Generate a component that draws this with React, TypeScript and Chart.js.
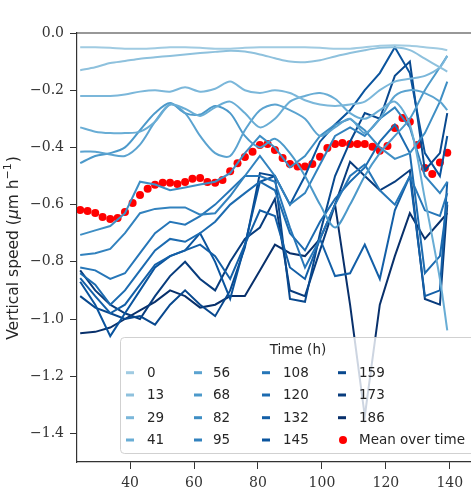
import React, { useEffect, useRef } from "react";
import { Chart, registerables } from "chart.js";

Chart.register(...registerables);

// Sampling times (h) of the per-track vertical speed curves
const lineTimes = [24.4, 29.1, 33.8, 38.4, 43.1, 47.8, 52.5, 57.2, 61.9, 66.6, 71.3, 75.9, 80.6, 85.3, 90.0, 94.7, 99.4, 104.1, 108.8, 113.4, 118.1, 122.8, 127.5, 132.2, 136.9, 139.2];

// Legend labels: start time (h) of each curve
const timeLabels = ["0", "13", "29", "41", "56", "68", "82", "95", "108", "120", "132", "145", "159", "173", "186"];

const speed0 = [-0.05, -0.05, -0.052, -0.055, -0.055, -0.053, -0.05, -0.05, -0.052, -0.055, -0.055, -0.052, -0.05, -0.05, -0.05, -0.05, -0.052, -0.055, -0.055, -0.05, -0.045, -0.043, -0.045, -0.05, -0.055, -0.06];
const speed13 = [-0.13, -0.12, -0.105, -0.098, -0.09, -0.085, -0.08, -0.075, -0.07, -0.066, -0.062, -0.065, -0.075, -0.088, -0.1, -0.102, -0.095, -0.082, -0.07, -0.06, -0.052, -0.05, -0.06, -0.09, -0.12, -0.135];
const speed29 = [-0.22, -0.22, -0.22, -0.215, -0.205, -0.2, -0.205, -0.19, -0.205, -0.195, -0.17, -0.2, -0.21, -0.2, -0.21, -0.235, -0.25, -0.255, -0.25, -0.24, -0.2, -0.17, -0.16, -0.15, -0.12, -0.08];
const speed41 = [-0.33, -0.345, -0.35, -0.35, -0.345, -0.31, -0.25, -0.265, -0.29, -0.26, -0.24, -0.28, -0.33, -0.3, -0.24, -0.22, -0.21, -0.23, -0.28, -0.3, -0.27, -0.24, -0.32, -0.58, -0.86, -1.04];
const speed56 = [-0.415, -0.415, -0.425, -0.43, -0.39, -0.31, -0.25, -0.28, -0.36, -0.42, -0.43, -0.34, -0.27, -0.25, -0.27, -0.3, -0.36, -0.33, -0.3, -0.35, -0.3, -0.22, -0.2, -0.21, -0.24, -0.27];
const speed68 = [-0.455, -0.43, -0.42, -0.4, -0.34, -0.28, -0.245, -0.28, -0.285, -0.255, -0.28, -0.36, -0.4, -0.37, -0.42, -0.5, -0.6, -0.68, -0.6, -0.5, -0.42, -0.36, -0.3, -0.2, -0.12, -0.08];
const speed82 = [-0.706, -0.69, -0.675, -0.63, -0.52, -0.53, -0.55, -0.54, -0.53, -0.52, -0.49, -0.42, -0.36, -0.4, -0.47, -0.43, -0.36, -0.32, -0.3, -0.34, -0.4, -0.44, -0.42, -0.35, -0.24, -0.17];
const speed95 = [-0.776, -0.77, -0.755, -0.7, -0.63, -0.615, -0.61, -0.61, -0.635, -0.63, -0.57, -0.5, -0.43, -0.5, -0.6, -0.56, -0.46, -0.36, -0.33, -0.36, -0.3, -0.26, -0.33, -0.5, -0.56, -0.52];
const speed108 = [-0.82, -0.83, -0.86, -0.84, -0.77, -0.7, -0.66, -0.67, -0.64, -0.6, -0.55, -0.5, -0.5, -0.52, -0.68, -0.82, -0.72, -0.6, -0.5, -0.46, -0.55, -0.6, -0.5, -0.62, -0.64, -0.56];
const speed120 = [-0.84, -0.88, -0.95, -0.9, -0.83, -0.76, -0.72, -0.73, -0.7, -0.66, -0.6, -0.56, -0.52, -0.55, -0.7, -0.76, -0.66, -0.58, -0.52, -0.47, -0.38, -0.32, -0.42, -0.84, -0.78, -0.59];
const speed132 = [-0.857, -0.92, -0.98, -0.95, -0.88, -0.81, -0.78, -0.76, -0.74, -0.78, -0.86, -0.74, -0.62, -0.64, -0.82, -0.86, -0.72, -0.85, -0.84, -0.74, -0.86, -0.62, -0.5, -0.92, -0.9, -0.52];
const speed145 = [-0.87, -0.95, -1.06, -0.98, -0.9, -0.82, -0.78, -0.76, -0.7, -0.8, -0.93, -0.74, -0.52, -0.5, -0.6, -0.5, -0.38, -0.32, -0.27, -0.2, -0.14, -0.05, -0.14, -0.42, -0.5, -0.36];
const speed159 = [-0.92, -0.96, -0.98, -1.0, -0.99, -1.02, -0.95, -0.9, -0.95, -0.99, -0.9, -0.75, -0.49, -0.5, -0.93, -0.94, -0.7, -0.5, -0.38, -0.28, -0.3, -0.15, -0.1, -0.48, -0.42, -0.28];
const speed173 = [-0.83, -0.9, -0.95, -0.98, -1.0, -0.92, -0.85, -0.8, -0.86, -0.9, -0.8, -0.72, -0.68, -0.58, -0.9, -0.92, -0.76, -0.6, -0.45, -0.5, -0.55, -0.52, -0.48, -0.93, -0.95, -0.6];
const speed186 = [-1.05, -1.045, -1.03, -1.0, -0.97, -0.94, -0.9, -0.92, -0.96, -0.95, -0.92, -0.92, -0.83, -0.74, -0.77, -0.78, -0.72, -0.6, -0.95, -1.34, -0.95, -0.78, -0.63, -0.72, -0.66, -0.63];

const speedSeries = [speed0, speed13, speed29, speed41, speed56, speed68, speed82, speed95, speed108, speed120, speed132, speed145, speed159, speed173, speed186];

// Mean vertical speed over all curves
const meanTimes = [24.4, 26.7, 29.1, 31.4, 33.8, 36.1, 38.4, 40.8, 43.1, 45.5, 47.8, 50.2, 52.5, 54.8, 57.2, 59.5, 61.9, 64.2, 66.6, 68.9, 71.3, 73.6, 75.9, 78.3, 80.6, 83.0, 85.3, 87.7, 90.0, 92.4, 94.7, 97.0, 99.4, 101.7, 104.1, 106.4, 108.8, 111.1, 113.4, 115.8, 118.1, 120.5, 122.8, 125.2, 127.5, 129.9, 132.2, 134.5, 136.9, 139.2];
const meanSpeed = [-0.619, -0.622, -0.629, -0.643, -0.65, -0.647, -0.626, -0.594, -0.566, -0.545, -0.531, -0.524, -0.524, -0.528, -0.521, -0.51, -0.507, -0.521, -0.524, -0.514, -0.483, -0.455, -0.434, -0.415, -0.392, -0.388, -0.409, -0.437, -0.458, -0.467, -0.467, -0.458, -0.433, -0.402, -0.388, -0.385, -0.388, -0.388, -0.388, -0.398, -0.412, -0.395, -0.332, -0.297, -0.31, -0.392, -0.472, -0.493, -0.453, -0.419];

const xTicks = [40, 60, 80, 100, 120, 140];
const yTicks = [0, -0.2, -0.4, -0.6, -0.8, -1.0, -1.2, -1.4];

// Sequential blue palette
const BLUES: [number, number, number][] = [
  [247, 251, 255], [222, 235, 247], [198, 219, 239], [158, 202, 225], [107, 174, 214],
  [66, 146, 198], [33, 113, 181], [8, 81, 156], [8, 48, 107],
];
function blues(t: number): string {
  const p = Math.max(0, Math.min(1, t)) * (BLUES.length - 1);
  const i = Math.min(BLUES.length - 2, Math.floor(p));
  const f = p - i;
  const c = BLUES[i].map((v, k) => Math.round(v + (BLUES[i + 1][k] - v) * f));
  return `rgb(${c[0]},${c[1]},${c[2]})`;
}

const SERIF = "'DejaVu Serif', serif";
const SANS = "'DejaVu Sans', sans-serif";

const framePlugin = {
  id: "frame",
  afterDraw(chart: any) {
    const { ctx, chartArea } = chart;
    ctx.save();
    ctx.strokeStyle = "#333";
    ctx.lineWidth = 1.2;
    ctx.beginPath();
    ctx.moveTo(chartArea.left, chartArea.top);
    ctx.lineTo(chartArea.right, chartArea.top);
    ctx.lineTo(chartArea.right, chartArea.bottom);
    ctx.stroke();

    // rotated y-axis title with superscript unit
    ctx.translate(14, 248);
    ctx.rotate(-Math.PI / 2);
    ctx.fillStyle = "#262626";
    ctx.textBaseline = "middle";
    const parts: { t: string; font: string; dy: number }[] = [
      { t: "Vertical speed (", font: `15.5px ${SANS}`, dy: 0 },
      { t: "μ", font: `italic 15.5px ${SANS}`, dy: 0 },
      { t: "m h", font: `15.5px ${SANS}`, dy: 0 },
      { t: "−1", font: `11px ${SANS}`, dy: -5.5 },
      { t: ")", font: `15.5px ${SANS}`, dy: 0 },
    ];
    let total = 0;
    for (const p of parts) {
      ctx.font = p.font;
      total += ctx.measureText(p.t).width + (p.t === "−1" ? 1 : 0);
    }
    let x = -total / 2;
    ctx.textAlign = "left";
    for (const p of parts) {
      ctx.font = p.font;
      ctx.fillText(p.t, x, p.dy);
      x += ctx.measureText(p.t).width + (p.t === "−1" ? 1 : 0);
    }
    ctx.restore();
  },
};

const legendPlugin = {
  id: "timeLegend",
  afterDatasetsDraw(chart: any) {
    const { ctx } = chart;
    const datasets = chart.data.datasets;
    ctx.save();
    const bx = 120.5, by = 337.5, bw = 356, bh = 116, r = 4;
    ctx.beginPath();
    ctx.moveTo(bx + r, by);
    ctx.lineTo(bx + bw - r, by);
    ctx.arcTo(bx + bw, by, bx + bw, by + r, r);
    ctx.lineTo(bx + bw, by + bh - r);
    ctx.arcTo(bx + bw, by + bh, bx + bw - r, by + bh, r);
    ctx.lineTo(bx + r, by + bh);
    ctx.arcTo(bx, by + bh, bx, by + bh - r, r);
    ctx.lineTo(bx, by + r);
    ctx.arcTo(bx, by, bx + r, by, r);
    ctx.closePath();
    ctx.fillStyle = "rgba(255,255,255,0.8)";
    ctx.fill();
    ctx.strokeStyle = "rgba(204,204,204,0.9)";
    ctx.lineWidth = 1;
    ctx.stroke();

    ctx.fillStyle = "#262626";
    ctx.font = `13.5px ${SANS}`;
    ctx.textAlign = "center";
    ctx.textBaseline = "middle";
    ctx.fillText("Time (h)", 298, 350);

    const handleX = [126, 194, 262, 338];
    const textX = [147, 213, 283, 359];
    const rowY = [372.7, 395, 417.7, 440];
    ctx.textAlign = "left";
    datasets.forEach((ds: any, i: number) => {
      const col = Math.floor(i / 4);
      const row = i % 4;
      const y = rowY[row];
      if (ds.showLine === false) {
        ctx.fillStyle = ds.backgroundColor;
        ctx.beginPath();
        ctx.arc(handleX[col] + 5, y, 4, 0, Math.PI * 2);
        ctx.fill();
      } else {
        ctx.strokeStyle = ds.borderColor;
        ctx.lineWidth = 3;
        ctx.beginPath();
        ctx.moveTo(handleX[col], y);
        ctx.lineTo(handleX[col] + 8, y);
        ctx.stroke();
      }
      ctx.fillStyle = "#262626";
      ctx.fillText(ds.label, textX[col], y + 0.5);
    });
    ctx.restore();
  },
};

export default function App() {
  const canvasRef = useRef<HTMLCanvasElement | null>(null);

  useEffect(() => {
    document.body.style.margin = "0";
    document.body.style.overflow = "hidden";
    const canvas = canvasRef.current;
    if (!canvas) return;

    const n = speedSeries.length;
    const lineSets = speedSeries.map((vals, k) => ({
      type: "line" as const,
      label: timeLabels[k],
      data: vals.map((v, i) => ({ x: lineTimes[i], y: v })),
      borderColor: blues(0.37 + (0.63 * k) / (n - 1)),
      backgroundColor: blues(0.37 + (0.63 * k) / (n - 1)),
      borderWidth: 2,
      pointRadius: 0,
      tension: k < 6 ? 0.3 : 0,
      fill: false,
    }));
    const meanSet = {
      type: "line" as const,
      label: "Mean over time",
      data: meanSpeed.map((v, i) => ({ x: meanTimes[i], y: v })),
      showLine: false,
      borderColor: "#ff0000",
      backgroundColor: "#ff0000",
      pointRadius: 4,
      pointBorderWidth: 0,
      pointHoverRadius: 4,
    };

    const chart = new Chart(canvas, {
      type: "line",
      data: { datasets: [...lineSets, meanSet] as any },
      options: {
        animation: false,
        responsive: false,
        maintainAspectRatio: false,
        devicePixelRatio: 1,
        events: [],
        layout: { padding: { top: 33, right: 15, bottom: 0, left: 0 } },
        plugins: { legend: { display: false }, tooltip: { enabled: false } },
        scales: {
          x: {
            type: "linear",
            min: 23.4,
            max: 151,
            afterFit: (s: any) => { s.height = 28; },
            afterBuildTicks: (s: any) => { s.ticks = xTicks.map((v) => ({ value: v })); },
            ticks: {
              font: { family: SERIF, size: 14 },
              color: "#333",
              padding: 6,
              maxRotation: 0,
              callback: (v: any) => String(v),
            },
            grid: { drawOnChartArea: false, drawTicks: true, tickLength: 7, color: "#333", lineWidth: 1 },
            border: { display: true, color: "#333", width: 1.2 },
          },
          y: {
            type: "linear",
            min: -1.5,
            max: 0,
            afterFit: (s: any) => { s.width = 77; },
            afterBuildTicks: (s: any) => { s.ticks = yTicks.map((v) => ({ value: v })); },
            ticks: {
              font: { family: SERIF, size: 14 },
              color: "#333",
              padding: 6,
              callback: (v: any) => {
                const num = Number(v);
                return (num < -1e-9 ? "−" : "") + Math.abs(num).toFixed(1);
              },
            },
            grid: { drawOnChartArea: false, drawTicks: true, tickLength: 7, color: "#333", lineWidth: 1 },
            border: { display: true, color: "#333", width: 1.2 },
          },
        },
      },
      plugins: [legendPlugin, framePlugin],
    });

    return () => chart.destroy();
  }, []);

  return (
    <div style={{ width: 471, height: 490, overflow: "hidden", position: "relative", background: "#fff" }}>
      <canvas ref={canvasRef} width={500} height={490} style={{ display: "block", width: 500, height: 490 }} />
    </div>
  );
}
